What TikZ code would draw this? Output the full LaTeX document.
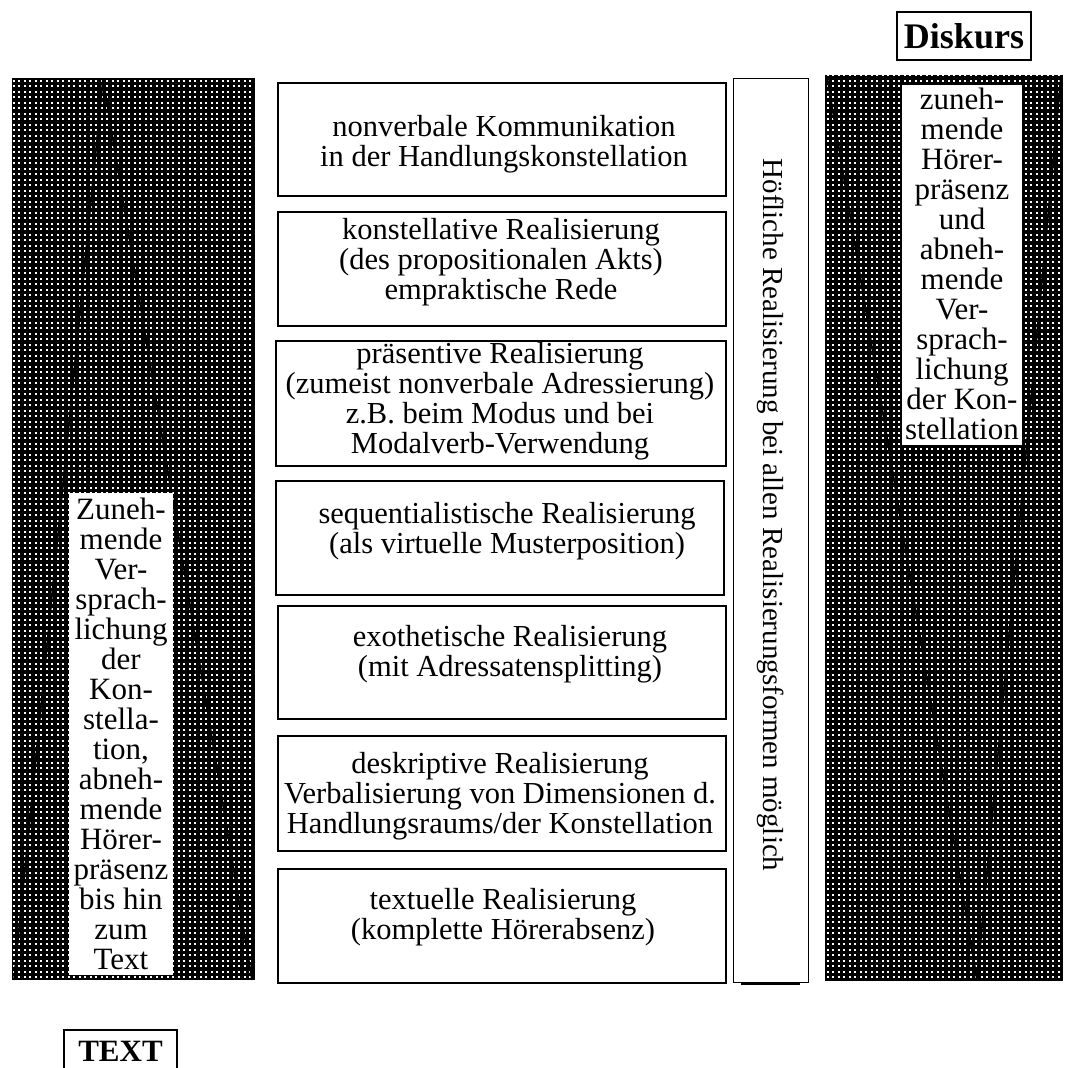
\documentclass[tikz,border=0pt]{standalone}
\usepackage{fontspec}
\setmainfont{Liberation Serif}
\usetikzlibrary{patterns}
\pgfdeclarepatternformonly{wdots}{\pgfqpoint{-1pt}{-1pt}}{\pgfqpoint{6.5pt}{6.5pt}}{\pgfqpoint{5.5pt}{5.5pt}}{%
  \pgfpathrectangle{\pgfqpoint{1.5pt}{1.5pt}}{\pgfqpoint{2pt}{2pt}}\pgfusepath{fill}}
\begin{document}
\begin{tikzpicture}[x=1pt,y=-1pt,
  txt/.style={font=\fontsize{30.5}{30}\selectfont, align=center, inner sep=0pt},
  ptxt/.style={font=\fontsize{31}{30}\selectfont, align=center, inner sep=0pt},
  vtxt/.style={font=\fontsize{29}{30}\selectfont, inner sep=0pt},
  box/.style={draw, line width=1.5pt, inner sep=0pt, anchor=north west},
  wbox/.style={fill=white, inner sep=0pt, anchor=north west},
  diag/.style={line width=1.8pt, line join=bevel},
  title/.style={draw, line width=1.5pt, font=\bfseries\fontsize{36}{36}\selectfont, inner sep=0pt}
]
\useasboundingbox[fill=white] (0,0) rectangle (1065,1068);

% patterned columns
\fill[black] (12,78) rectangle (255,980);
\fill[pattern=wdots, pattern color=white] (12,78) rectangle (255,980);
\fill[black] (825,75) rectangle (1063,981);
\fill[pattern=wdots, pattern color=white] (825,75) rectangle (1063,981);

% diagonal lines
\coordinate (la) at (103,79);
\coordinate (lb) at (14,980);
\coordinate (lc) at (252,980);
\draw[diag] (lb) -- (la) -- (lc);
\coordinate (ra) at (827,76);
\coordinate (rb) at (977,980);
\coordinate (rc) at (1061,76);
\draw[diag] (ra) -- (rb) -- (rc);

% white text panels
\node[wbox, minimum width=104pt, minimum height=482pt] (lp) at (69,493) {};
\node[ptxt] (lt) at (121,734) {Zuneh-\\mende\\Ver-\\sprach-\\lichung\\der\\Kon-\\stella-\\tion,\\abneh-\\mende\\Hörer-\\präsenz\\bis hin\\zum\\Text};
\node[wbox, minimum width=120pt, minimum height=360pt] (rp) at (902,85) {};
\node[ptxt] (rt) at (962,264) {zuneh-\\mende\\Hörer-\\präsenz\\und\\abneh-\\mende\\Ver-\\sprach-\\lichung\\der Kon-\\stellation};

% middle boxes
\node[box, minimum width=448pt, minimum height=113pt] (b1) at (277,82) {};
\node[txt] (t1) at (504,144) {nonverbale Kommunikation\\in der Handlungskonstellation};
\node[box, minimum width=448pt, minimum height=114pt] (b2) at (277,211) {};
\node[txt] (t2) at (501,262) {konstellative Realisierung\\(des propositionalen Akts)\\empraktische Rede};
\node[box, minimum width=450pt, minimum height=125pt] (b3) at (275,340) {};
\node[txt] (t3) at (500,401) {präsentive Realisierung\\(zumeist nonverbale Adressierung)\\z.B. beim Modus und bei\\Modalverb-Verwendung};
\node[box, minimum width=448pt, minimum height=114pt] (b4) at (275,480) {};
\node[txt] (t4) at (507,531) {sequentialistische Realisierung\\(als virtuelle Musterposition)};
\node[box, minimum width=448pt, minimum height=113pt] (b5) at (277,605) {};
\node[txt] (t5) at (510,654) {exothetische Realisierung\\(mit Adressatensplitting)};
\node[box, minimum width=448pt, minimum height=115pt] (b6) at (277,735) {};
\node[txt] (t6) at (500,796) {deskriptive Realisierung\\Verbalisierung von Dimensionen d.\\Handlungsraums/der Konstellation};
\node[box, minimum width=448pt, minimum height=114pt] (b7) at (277,868) {};
\node[txt] (t7) at (503,917) {textuelle Realisierung\\(komplette Hörerabsenz)};

% vertical box
\node[box, line width=1.2pt, minimum width=75pt, minimum height=904pt] (vb) at (733,78) {};
\draw[line width=2.5pt] (741,984) -- (800,984);
\node[vtxt, rotate=-90] (vt) at (771,515) {Höfliche Realisierung bei allen Realisierungsformen möglich};

% titles
\node[title, minimum width=134pt, minimum height=48pt] (dk) at (964,36) {Diskurs};
\coordinate (tx1) at (64,1080);
\coordinate (tx2) at (64,1030);
\coordinate (tx3) at (177,1030);
\coordinate (tx4) at (177,1080);
\draw[line width=1.5pt] (tx1) -- (tx2) -- (tx3) -- (tx4);
\node[font=\bfseries\fontsize{31}{31}\selectfont, inner sep=0pt] (tx) at (120.5,1051) {TEXT};
\end{tikzpicture}
\end{document}
